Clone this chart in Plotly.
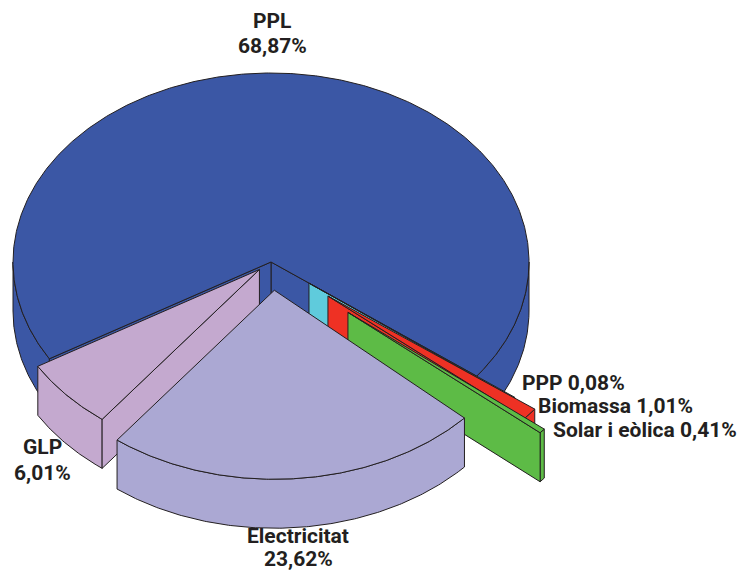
import numpy as np
import plotly.graph_objects as go

# Data
labels = ["PPL", "PPP", "Biomassa", "Solar i eòlica", "Electricitat", "GLP"]
values = [68.87, 0.08, 1.01, 0.41, 23.62, 6.01]
label_lines = ["PPL", "68,87%", "PPP 0,08%", "Biomassa 1,01%", "Solar i eòlica 0,41%",
               "Electricitat", "23,62%", "GLP", "6,01%"]

# Pie geometry and style (a tilted pie projected on the page)
explode = [0.0, 0.185, 0.285, 0.40, 0.15, 0.06]
rotate = [0.0, 0.0, -0.7, -2.0, 0.0, 0.0]
radius_scale = [1.0, 1.0, 1.0, 0.98, 1.0, 1.0]
colors = ["#3B57A5", "#5FCBDC", "#EE3124", "#5DBB46", "#ABA8D3", "#C4A9CF"]
paint_order = [0, 1, 2, 3, 5, 4]
CX, CY, RX, RY, DEPTH = 271.0, 262.0, 258.0, 189.0, 49.0
START = 149.2
EDGE = "#231F20"
label_pos = [(272, 21, "center"), (272, 46, "center"), (520, 383, "left"), (536, 406, "left"),
             (551, 430, "left"), (298, 536, "center"), (298, 559, "center"),
             (42, 447, "center"), (42, 473, "center")]
FONT = "Roboto, Liberation Sans, sans-serif"
FS = 21


def poly(xs, ys, color):
    return go.Scatter(x=list(xs), y=list(ys), mode="lines", fill="toself", fillcolor=color,
                      line=dict(color=EDGE, width=1), hoverinfo="skip", showlegend=False)


def visible_side_ranges(t0, t1):
    """Parts of [t0, t1] (degrees) on the front half of the ellipse."""
    out = []
    k0 = int(np.floor(t0 / 360.0)) - 1
    for k in range(k0, k0 + 4):
        a, b = max(t0, 360 * k), min(t1, 360 * k + 180)
        if b > a:
            out.append((a, b))
    return out


fig = go.Figure()
total = sum(values)
t = START
spans = []
for v in values:
    spans.append((t, t + v / total * 360.0))
    t = spans[-1][1]

for i in paint_order:
    t0, t1 = spans[i]
    e, col, rs = explode[i], colors[i], radius_scale[i]
    mid = np.radians((t0 + t1) / 2)
    ax = CX + e * RX * np.cos(mid)
    ay = CY + e * RY * np.sin(mid)
    t0, t1 = t0 + rotate[i], t1 + rotate[i]

    def pt(deg):
        r = np.radians(deg)
        return ax + rs * RX * np.cos(r), ay + rs * RY * np.sin(r)

    # outer rim
    for a, b in visible_side_ranges(t0, t1):
        ts = np.linspace(a, b, max(3, int(b - a) * 2 + 2))
        xs, ys = pt(ts)
        fig.add_trace(poly(np.r_[xs, xs[::-1], xs[0]], np.r_[ys, ys[::-1] + DEPTH, ys[0]], col))
    # cut faces turned to the viewer
    if np.cos(np.radians(t1)) > 0:
        x, y = pt(t1)
        fig.add_trace(poly([ax, x, x, ax, ax], [ay, y, y + DEPTH, ay + DEPTH, ay], col))
    if np.cos(np.radians(t0)) < 0:
        x, y = pt(t0)
        fig.add_trace(poly([ax, x, x, ax, ax], [ay, y, y + DEPTH, ay + DEPTH, ay], col))
    # top surface
    ts = np.linspace(t0, t1, max(3, int(t1 - t0) * 2 + 2))
    xs, ys = pt(ts)
    fig.add_trace(poly(np.r_[ax, xs, ax], np.r_[ay, ys, ay], col))

for text, (x, y, align) in zip(label_lines, label_pos):
    fig.add_annotation(x=x, y=y, text=f"<b>{text}</b>", showarrow=False, xanchor=align,
                       yanchor="middle", align=align,
                       font=dict(family=FONT, size=FS, color=EDGE))

fig.update_layout(width=746, height=572, margin=dict(l=0, r=0, t=0, b=0),
                  paper_bgcolor="white", plot_bgcolor="white",
                  xaxis=dict(range=[0, 746], visible=False),
                  yaxis=dict(range=[572, 0], visible=False))
fig.write_html("out.html", config=dict(displayModeBar=False),
               post_script="document.body.style.margin='0';")
